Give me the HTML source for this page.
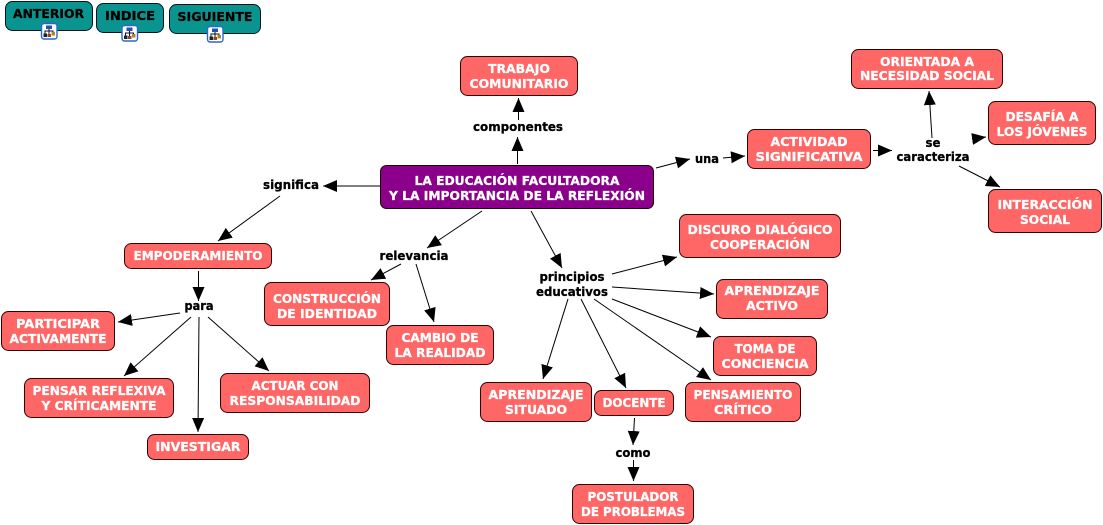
<!DOCTYPE html>
<html><head><meta charset="utf-8"><style>
html,body{margin:0;padding:0;background:#fff}
svg{display:block}
text{font-family:"DejaVu Sans","Liberation Sans",sans-serif;font-weight:bold;font-size:12.5px;text-anchor:middle;stroke-width:.3px}
.b rect{fill:#ff6666;stroke:#300;stroke-width:1}
.b text{fill:#fff;stroke:#fff}
.n rect{fill:#0a9490;stroke:#012;stroke-width:1}
.n text{fill:#000;stroke:#000}
.l text{fill:#000;stroke:#000}
.m{fill:#fff;stroke:#fff}
.c line{stroke:#000;stroke-width:1;marker-end:url(#a)}
</style></head><body>
<svg width="1103" height="525" viewBox="0 0 1103 525" xmlns="http://www.w3.org/2000/svg">
<defs>
<marker id="a" markerUnits="userSpaceOnUse" markerWidth="15" markerHeight="13" refX="14" refY="6" orient="auto"><path d="M0,0L14,6L0,12Z" fill="#000"/></marker>
<g id="ic">
<rect x=".5" y=".5" width="15.5" height="15.5" rx="2.5" fill="#fff" stroke="#2a68c8" stroke-width="1.4"/>
<path d="M8,6V8M4,11V8H12V10M8,8V12" stroke="#112" fill="none" stroke-width="1"/>
<rect x="5" y="2.500" width="6" height="3.500" fill="#2a4fa8"/>
<rect x="2.500" y="10.500" width="3.500" height="3.500" fill="#222"/>
<rect x="6.500" y="11" width="3.500" height="3" fill="#8a4a2a"/>
<rect x="10.500" y="9" width="3.500" height="3.500" fill="#b08820"/>
</g>
</defs>

<g class="n">
<rect x="5.500" y="1.500" width="87" height="29" rx="7"/><text x="48.500" y="18" textLength="71" lengthAdjust="spacingAndGlyphs">ANTERIOR</text>
<rect x="96.500" y="3.500" width="67" height="29" rx="7"/><text x="130" y="20" textLength="50" lengthAdjust="spacingAndGlyphs">INDICE</text>
<rect x="169.500" y="4.500" width="91" height="29" rx="7"/><text x="215" y="21" textLength="75" lengthAdjust="spacingAndGlyphs">SIGUIENTE</text>
</g>
<use href="#ic" x="41" y="23"/><use href="#ic" x="121.500" y="25"/><use href="#ic" x="207" y="26"/>

<g class="c">
<line x1="517.500" y1="164" x2="517.500" y2="137"/>
<line x1="518.500" y1="120" x2="518.500" y2="98"/>
<line x1="380" y1="186" x2="323" y2="186"/>
<line x1="280" y1="196" x2="218" y2="241"/>
<line x1="198.500" y1="271" x2="198.500" y2="301"/>
<line x1="180" y1="313" x2="118" y2="322"/>
<line x1="191" y1="317" x2="124" y2="376"/>
<line x1="199" y1="317" x2="198" y2="432"/>
<line x1="208" y1="317" x2="269" y2="371"/>
<line x1="482" y1="211" x2="427" y2="248"/>
<line x1="401" y1="264" x2="371" y2="280"/>
<line x1="416" y1="264" x2="434" y2="322"/>
<line x1="531" y1="211" x2="562" y2="268"/>
<line x1="612" y1="274" x2="677" y2="257"/>
<line x1="612" y1="287" x2="714" y2="294"/>
<line x1="612" y1="299" x2="711" y2="337"/>
<line x1="594" y1="299" x2="711" y2="380"/>
<line x1="581" y1="299" x2="626" y2="388"/>
<line x1="568" y1="299" x2="543" y2="379"/>
<line x1="634.500" y1="418" x2="633" y2="445"/>
<line x1="633.500" y1="460" x2="633.500" y2="481"/>
<line x1="656" y1="168" x2="690" y2="159"/>
<line x1="723" y1="158" x2="745" y2="156"/>
<line x1="873" y1="150.500" x2="892" y2="150.500"/>
<line x1="932" y1="138" x2="929" y2="91"/>
<line x1="972" y1="139" x2="986" y2="137"/>
<line x1="959" y1="166" x2="1000" y2="187"/>
</g>

<rect x="380.500" y="165.500" width="273" height="43" rx="6" fill="#8b008b" stroke="#200" stroke-width="1"/>
<text class="m" x="517" y="185" textLength="205" lengthAdjust="spacingAndGlyphs">LA EDUCACIÓN FACULTADORA</text>
<text class="m" x="517" y="200" textLength="256" lengthAdjust="spacingAndGlyphs">Y LA IMPORTANCIA DE LA REFLEXIÓN</text>

<g class="b">
<rect x="460.500" y="56.500" width="117" height="39" rx="7"/>
<text x="519" y="73" textLength="62" lengthAdjust="spacingAndGlyphs">TRABAJO</text>
<text x="519" y="88" textLength="99" lengthAdjust="spacingAndGlyphs">COMUNITARIO</text>

<rect x="851.500" y="49.500" width="151" height="39" rx="7"/>
<text x="927" y="66" textLength="94" lengthAdjust="spacingAndGlyphs">ORIENTADA A</text>
<text x="927" y="80" textLength="134" lengthAdjust="spacingAndGlyphs">NECESIDAD SOCIAL</text>

<rect x="988.500" y="101.500" width="107" height="43" rx="7"/>
<text x="1042" y="121" textLength="73" lengthAdjust="spacingAndGlyphs">DESAFÍA A</text>
<text x="1042" y="136" textLength="91" lengthAdjust="spacingAndGlyphs">LOS JÓVENES</text>

<rect x="988.500" y="189.500" width="113" height="43" rx="7"/>
<text x="1045" y="209" textLength="95" lengthAdjust="spacingAndGlyphs">INTERACCIÓN</text>
<text x="1045" y="224" textLength="50" lengthAdjust="spacingAndGlyphs">SOCIAL</text>

<rect x="747.500" y="129.500" width="123" height="39" rx="7"/>
<text x="809" y="146" textLength="77" lengthAdjust="spacingAndGlyphs">ACTIVIDAD</text>
<text x="809" y="161" textLength="107" lengthAdjust="spacingAndGlyphs">SIGNIFICATIVA</text>

<rect x="124.500" y="243.500" width="147" height="25" rx="7"/>
<text x="198" y="260" textLength="129" lengthAdjust="spacingAndGlyphs">EMPODERAMIENTO</text>

<rect x="1.500" y="311.500" width="113" height="39" rx="7"/>
<text x="58" y="328" textLength="84" lengthAdjust="spacingAndGlyphs">PARTICIPAR</text>
<text x="58" y="343" textLength="97" lengthAdjust="spacingAndGlyphs">ACTIVAMENTE</text>

<rect x="24.500" y="378.500" width="149" height="39" rx="7"/>
<text x="99" y="395" textLength="133" lengthAdjust="spacingAndGlyphs">PENSAR REFLEXIVA</text>
<text x="99" y="410" textLength="115" lengthAdjust="spacingAndGlyphs">Y CRÍTICAMENTE</text>

<rect x="220.500" y="373.500" width="149" height="39" rx="7"/>
<text x="295" y="390" textLength="87" lengthAdjust="spacingAndGlyphs">ACTUAR CON</text>
<text x="295" y="405" textLength="131" lengthAdjust="spacingAndGlyphs">RESPONSABILIDAD</text>

<rect x="147.500" y="434.500" width="101" height="25" rx="7"/>
<text x="198" y="451" textLength="85" lengthAdjust="spacingAndGlyphs">INVESTIGAR</text>

<rect x="264.500" y="282.500" width="125" height="43" rx="7"/>
<text x="327" y="303" textLength="108" lengthAdjust="spacingAndGlyphs">CONSTRUCCIÓN</text>
<text x="327" y="318" textLength="100" lengthAdjust="spacingAndGlyphs">DE IDENTIDAD</text>

<rect x="386.500" y="325.500" width="107" height="39" rx="7"/>
<text x="440" y="342" textLength="77" lengthAdjust="spacingAndGlyphs">CAMBIO DE</text>
<text x="440" y="357" textLength="91" lengthAdjust="spacingAndGlyphs">LA REALIDAD</text>

<rect x="679.500" y="214.500" width="161" height="43" rx="7"/>
<text x="760" y="234" textLength="145" lengthAdjust="spacingAndGlyphs">DISCURO DIALÓGICO</text>
<text x="760" y="249" textLength="100" lengthAdjust="spacingAndGlyphs">COOPERACIÓN</text>

<rect x="716.500" y="279.500" width="111" height="39" rx="7"/>
<text x="772" y="295" textLength="95" lengthAdjust="spacingAndGlyphs">APRENDIZAJE</text>
<text x="772" y="310" textLength="52" lengthAdjust="spacingAndGlyphs">ACTIVO</text>

<rect x="713.500" y="336.500" width="103" height="39" rx="7"/>
<text x="765" y="353" textLength="61" lengthAdjust="spacingAndGlyphs">TOMA DE</text>
<text x="765" y="368" textLength="87" lengthAdjust="spacingAndGlyphs">CONCIENCIA</text>

<rect x="685.500" y="382.500" width="115" height="39" rx="7"/>
<text x="743" y="399" textLength="99" lengthAdjust="spacingAndGlyphs">PENSAMIENTO</text>
<text x="743" y="414" textLength="58" lengthAdjust="spacingAndGlyphs">CRÍTICO</text>

<rect x="480.500" y="382.500" width="111" height="39" rx="7"/>
<text x="536" y="399" textLength="95" lengthAdjust="spacingAndGlyphs">APRENDIZAJE</text>
<text x="536" y="414" textLength="62" lengthAdjust="spacingAndGlyphs">SITUADO</text>

<rect x="594.500" y="390.500" width="79" height="25" rx="7"/>
<text x="634" y="407" textLength="63" lengthAdjust="spacingAndGlyphs">DOCENTE</text>

<rect x="572.500" y="484.500" width="121" height="39" rx="7"/>
<text x="633" y="501" textLength="91" lengthAdjust="spacingAndGlyphs">POSTULADOR</text>
<text x="633" y="516" textLength="104" lengthAdjust="spacingAndGlyphs">DE PROBLEMAS</text>
</g>

<g class="l">
<text x="518" y="131" textLength="90" lengthAdjust="spacingAndGlyphs">componentes</text>
<text x="291" y="189" textLength="56" lengthAdjust="spacingAndGlyphs">significa</text>
<text x="199" y="310" textLength="29" lengthAdjust="spacingAndGlyphs">para</text>
<text x="414" y="260" textLength="69" lengthAdjust="spacingAndGlyphs">relevancia</text>
<text x="572" y="281" textLength="65" lengthAdjust="spacingAndGlyphs">principios</text>
<text x="572" y="296" textLength="72" lengthAdjust="spacingAndGlyphs">educativos</text>
<text x="707" y="163" textLength="24" lengthAdjust="spacingAndGlyphs">una</text>
<text x="933" y="147" textLength="15" lengthAdjust="spacingAndGlyphs">se</text>
<text x="933" y="161" textLength="73" lengthAdjust="spacingAndGlyphs">caracteriza</text>
<text x="633" y="457" textLength="35" lengthAdjust="spacingAndGlyphs">como</text>
</g>
</svg>
</body></html>
